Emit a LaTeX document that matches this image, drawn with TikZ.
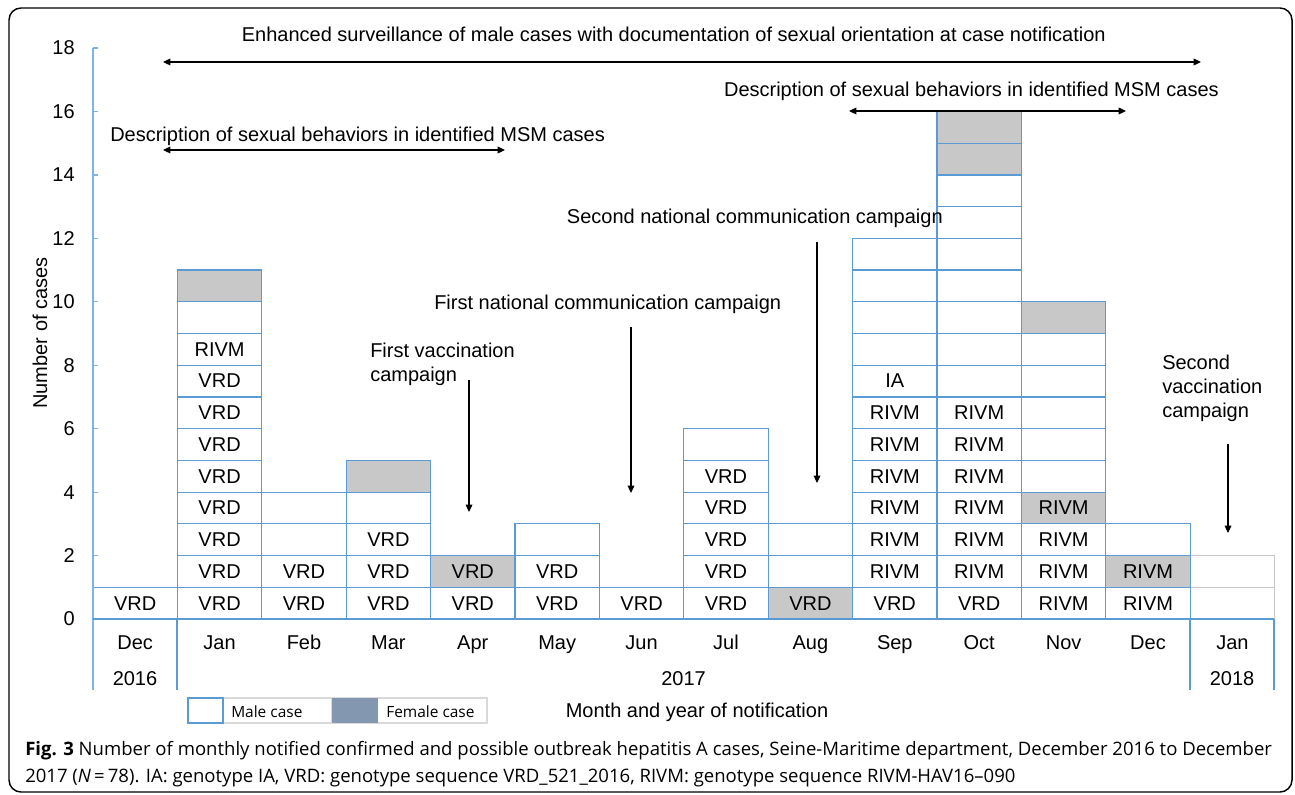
\documentclass[tikz,border=0pt]{standalone}
\usepackage{fontspec}
\setmainfont{Liberation Sans}
\newfontfamily\capfont{Open Sans}
\usetikzlibrary{arrows.meta}
\definecolor{cellblue}{HTML}{5B9BD5}
\definecolor{axisblue}{HTML}{7FB2E5}
\definecolor{cg}{HTML}{C8C8C8}
\definecolor{femcol}{HTML}{8497B0}
\definecolor{lgrey}{HTML}{C8C8C8}
\definecolor{legline}{HTML}{D9D9D9}
\newcommand\chartfont{\fontsize{15pt}{17.6pt}\selectfont}
\newcommand\casecol[2]{%
  \foreach \f/\t [count=\r] in {#2}{%
    \node[cell,fill=\f] (c#1-\r) at ({93+84.4*#1+42.2},{619-31.72*\r+15.86}) {\t};}}
\begin{document}
\begin{tikzpicture}[x=0.75pt,y=-0.75pt,
  cell/.style={draw=cellblue,line width=0.9pt,minimum width=63.3pt,minimum height=23.79pt,inner sep=0pt,font=\chartfont},
  lab/.style={font=\chartfont,inner sep=0pt},
  arr/.style={-{Triangle[length=5.5pt,width=5pt]},line width=0.9pt},
  darr/.style={{Triangle[length=5.5pt,width=5pt]}-{Triangle[length=5.5pt,width=5pt]},line width=0.9pt}]
\useasboundingbox (0,0) rectangle (1295,795);
\draw[line width=1.1pt,rounded corners=9pt] (9,8) rectangle (1292,792);

% Jan 2018 empty cells
\node[cell,draw=lgrey,fill=white] (c13-1) at ({93+84.4*13+42.2},{619-31.72*1+15.86}) {};
\node[cell,draw=lgrey,fill=white] (c13-2) at ({93+84.4*13+42.2},{619-31.72*2+15.86}) {};

% bars
\casecol{0}{white/VRD}
\casecol{1}{white/VRD,white/VRD,white/VRD,white/VRD,white/VRD,white/VRD,white/VRD,white/VRD,white/RIVM,white/{},cg/{}}
\casecol{2}{white/VRD,white/VRD,white/{},white/{}}
\casecol{3}{white/VRD,white/VRD,white/VRD,white/{},cg/{}}
\casecol{4}{white/VRD,cg/VRD}
\casecol{5}{white/VRD,white/VRD,white/{}}
\casecol{6}{white/VRD}
\casecol{7}{white/VRD,white/VRD,white/VRD,white/VRD,white/VRD,white/{}}
\casecol{8}{cg/VRD,white/{},white/{}}
\casecol{9}{white/VRD,white/RIVM,white/RIVM,white/RIVM,white/RIVM,white/RIVM,white/RIVM,white/IA,white/{},white/{},white/{},white/{}}
\casecol{10}{white/VRD,white/RIVM,white/RIVM,white/RIVM,white/RIVM,white/RIVM,white/RIVM,white/{},white/{},white/{},white/{},white/{},white/{},white/{},cg/{},cg/{}}
\casecol{11}{white/RIVM,white/RIVM,white/RIVM,cg/RIVM,white/{},white/{},white/{},white/{},white/{},cg/{}}
\casecol{12}{white/RIVM,cg/RIVM,white/{}}

% axes
\draw[axisblue,line width=0.9pt] (93,48) -- (93,690);
\foreach \v in {0,2,...,18}{
  \draw[axisblue,line width=0.9pt] (93,{619-31.72*\v}) -- (98,{619-31.72*\v});
  \node[lab,anchor=east] (y\v) at (75,{619-31.72*\v}) {\v};
}
\draw[cellblue,line width=0.9pt] (93,619) -- (1274,619);
\draw[cellblue,line width=0.9pt] (177,619) -- (177,690);
\draw[cellblue,line width=0.9pt] (1190,619) -- (1190,690);
\draw[cellblue,line width=0.9pt] (1274,619) -- (1274,690);

\node[lab,rotate=90] (ylab) at (40,333) {Number of cases};

% month labels
\foreach \m [count=\i from 0] in {Dec,Jan,Feb,Mar,Apr,May,Jun,Jul,Aug,Sep,Oct,Nov,Dec,Jan}{
  \node[lab,anchor=base] (m\i) at ({93+84.4*\i+42.2},649) {\m};
}
\node[lab,anchor=base] (yr16) at (135,685) {2016};
\node[lab,anchor=base] (yr17) at (683.5,685) {2017};
\node[lab,anchor=base] (yr18) at (1232,685) {2018};
\node[lab,anchor=base] (xlab) at (697,717) {Month and year of notification};

% annotations
\node[lab,anchor=base east] (enh) at (1106,42) {Enhanced surveillance of male cases with documentation of sexual orientation at case notification};
\coordinate (enhL) at (163,62); \coordinate (enhR) at (1201,62);
\draw[darr] (enhL) -- (enhR);

\node[lab,anchor=base west] (descL) at (110,142) {Description of sexual behaviors in identified MSM cases};
\coordinate (descLa) at (163,150); \coordinate (descLb) at (505,150);
\draw[darr] (descLa) -- (descLb);

\node[lab,anchor=base east] (descR) at (1219,97) {Description of sexual behaviors in identified MSM cases};
\coordinate (descRa) at (849,111); \coordinate (descRb) at (1126,111);
\draw[darr] (descRa) -- (descRb);

\node[lab,anchor=base east] (snc) at (943,223) {Second national communication campaign};
\coordinate (sncA) at (817,242); \coordinate (sncB) at (817,483);
\draw[arr] (sncA) -- (sncB);

\node[lab,anchor=base west] (fnc) at (434,309) {First national communication campaign};
\coordinate (fncA) at (631,327); \coordinate (fncB) at (631,493);
\draw[arr] (fncA) -- (fncB);

\node[lab,anchor=north west,align=left] (fvc) at (370,343) {First vaccination\\campaign};
\coordinate (fvcA) at (469,380); \coordinate (fvcB) at (469,512);
\draw[arr] (fvcA) -- (fvcB);

\node[lab,anchor=north west,align=left,font=\fontsize{15pt}{18pt}\selectfont] (svc) at (1162,355) {Second\\vaccination\\campaign};
\coordinate (svcA) at (1228,444); \coordinate (svcB) at (1228,533);
\draw[arr] (svcA) -- (svcB);

% legend
\draw[legline,line width=0.8pt,fill=white] (188,698) rectangle (487,723);
\draw[legline,line width=0.8pt] (332,698) -- (332,723);
\node[draw=cellblue,fill=white,line width=0.9pt,minimum width=26.25pt,minimum height=18.75pt,inner sep=0pt] (legM) at (205.5,710.5) {};
\node[fill=femcol,minimum width=34.5pt,minimum height=18.75pt,inner sep=0pt] (legF) at (355,710.5) {};
\node[anchor=base west,inner sep=0pt,font=\capfont\fontsize{11.6pt}{13pt}\selectfont] (legMt) at (231,717) {Male case};
\node[anchor=base west,inner sep=0pt,font=\capfont\fontsize{11.6pt}{13pt}\selectfont] (legFt) at (386,717) {Female case};

% caption
\node[anchor=base west,inner sep=0pt,font=\capfont\fontsize{13.9pt}{16pt}\selectfont] (cap1) at (25,755)
  {\makebox[935pt][s]{\textbf{\mbox{Fig. 3}} Number of monthly notified confirmed and possible outbreak hepatitis A cases, Seine-Maritime department, December 2016 to December}};
\node[anchor=base west,inner sep=0pt,font=\capfont\fontsize{13.9pt}{16pt}\selectfont] (cap2) at (25,782)
  {2017 (\textit{N}\,=\,78). IA: genotype IA, VRD: genotype sequence VRD\_521\_2016, RIVM: genotype sequence RIVM-HAV16–090};
\end{tikzpicture}
\end{document}
